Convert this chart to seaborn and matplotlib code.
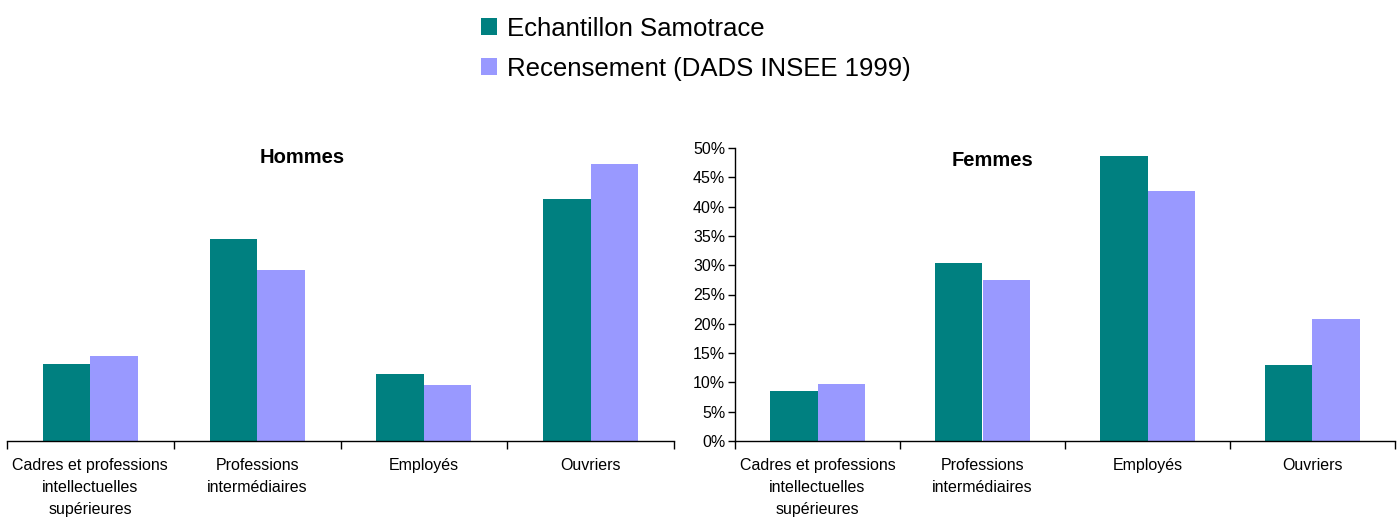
import pandas as pd
import numpy as np
import matplotlib
matplotlib.use("Agg")
import matplotlib.pyplot as plt
import seaborn as sns
from matplotlib.ticker import FuncFormatter

categories = ["Cadres et professions\nintellectuelles\nsupérieures",
              "Professions\nintermédiaires",
              "Employés",
              "Ouvriers"]
series = ["Echantillon Samotrace", "Recensement (DADS INSEE 1999)"]

hommes_samotrace = [13.2, 34.5, 11.5, 41.3]
hommes_recensement = [14.5, 29.2, 9.6, 47.2]
femmes_samotrace = [8.5, 30.3, 48.7, 13.0]
femmes_recensement = [9.8, 27.4, 42.6, 20.8]

colors = ["#008080", "#9999FF"]


def make_df(a, b):
    return pd.DataFrame({
        "cat": categories * 2,
        "source": [series[0]] * 4 + [series[1]] * 4,
        "val": list(a) + list(b),
    })


sns.set_style("white")
plt.rcParams["font.family"] = ["Liberation Sans", "DejaVu Sans"]
plt.rcParams["text.color"] = "black"
plt.rcParams["xtick.color"] = "black"
plt.rcParams["ytick.color"] = "black"

fig = plt.figure(figsize=(13.97, 5.18), dpi=100)
ax1 = fig.add_axes([7 / 1397, 77 / 518, 667 / 1397, 293 / 518])
ax2 = fig.add_axes([735 / 1397, 77 / 518, 660 / 1397, 293 / 518])

panels = [(ax1, make_df(hommes_samotrace, hommes_recensement), "Hommes", 0.443, 0.968),
          (ax2, make_df(femmes_samotrace, femmes_recensement), "Femmes", 0.39, 0.958)]

for ax, df, title, tx, ty in panels:
    sns.barplot(data=df, x="cat", y="val", hue="source", palette=colors,
                width=0.57, saturation=1, linewidth=0, ax=ax, legend=True)
    ax.set_ylim(0, 50)
    ax.set_xlim(-0.5, 3.5)
    ax.set_xlabel("")
    ax.set_ylabel("")
    ax.text(tx, ty, title, transform=ax.transAxes, ha="center", va="center",
            fontsize=14.5, fontweight="bold")
    ax.set_xticks(range(4))
    ax.set_xticklabels(categories, fontsize=11.5, linespacing=1.6)
    ax.tick_params(axis="x", which="major", length=0, pad=12)
    ax.set_xticks(np.arange(-0.5, 4, 1), minor=True)
    ax.tick_params(axis="x", which="minor", length=6, width=1, direction="out",
                   color="black", bottom=True)
    for s in ["top", "right"]:
        ax.spines[s].set_visible(False)
    ax.spines["bottom"].set_color("black")
    ax.spines["bottom"].set_linewidth(1)

handles, labels = ax1.get_legend_handles_labels()
ax1.get_legend().remove()
ax2.get_legend().remove()

ax1.spines["left"].set_visible(False)
ax1.set_yticks([])

ax2.spines["left"].set_color("black")
ax2.spines["left"].set_linewidth(1)
ax2.set_yticks(np.arange(0, 51, 5))
ax2.yaxis.set_major_formatter(FuncFormatter(lambda v, p: f"{int(v)}%"))
ax2.tick_params(axis="y", left=True, length=5, width=1, direction="out",
                color="black", labelsize=11.5, pad=2)

fig.legend(handles, labels, loc="upper left", bbox_to_anchor=(464 / 1397, 1.0),
           frameon=False, fontsize=18.5, handlelength=0.62, handleheight=0.62,
           handletextpad=0.4, labelspacing=0.62, borderaxespad=0.25)

fig.savefig("out.png", dpi=100, facecolor="white")
